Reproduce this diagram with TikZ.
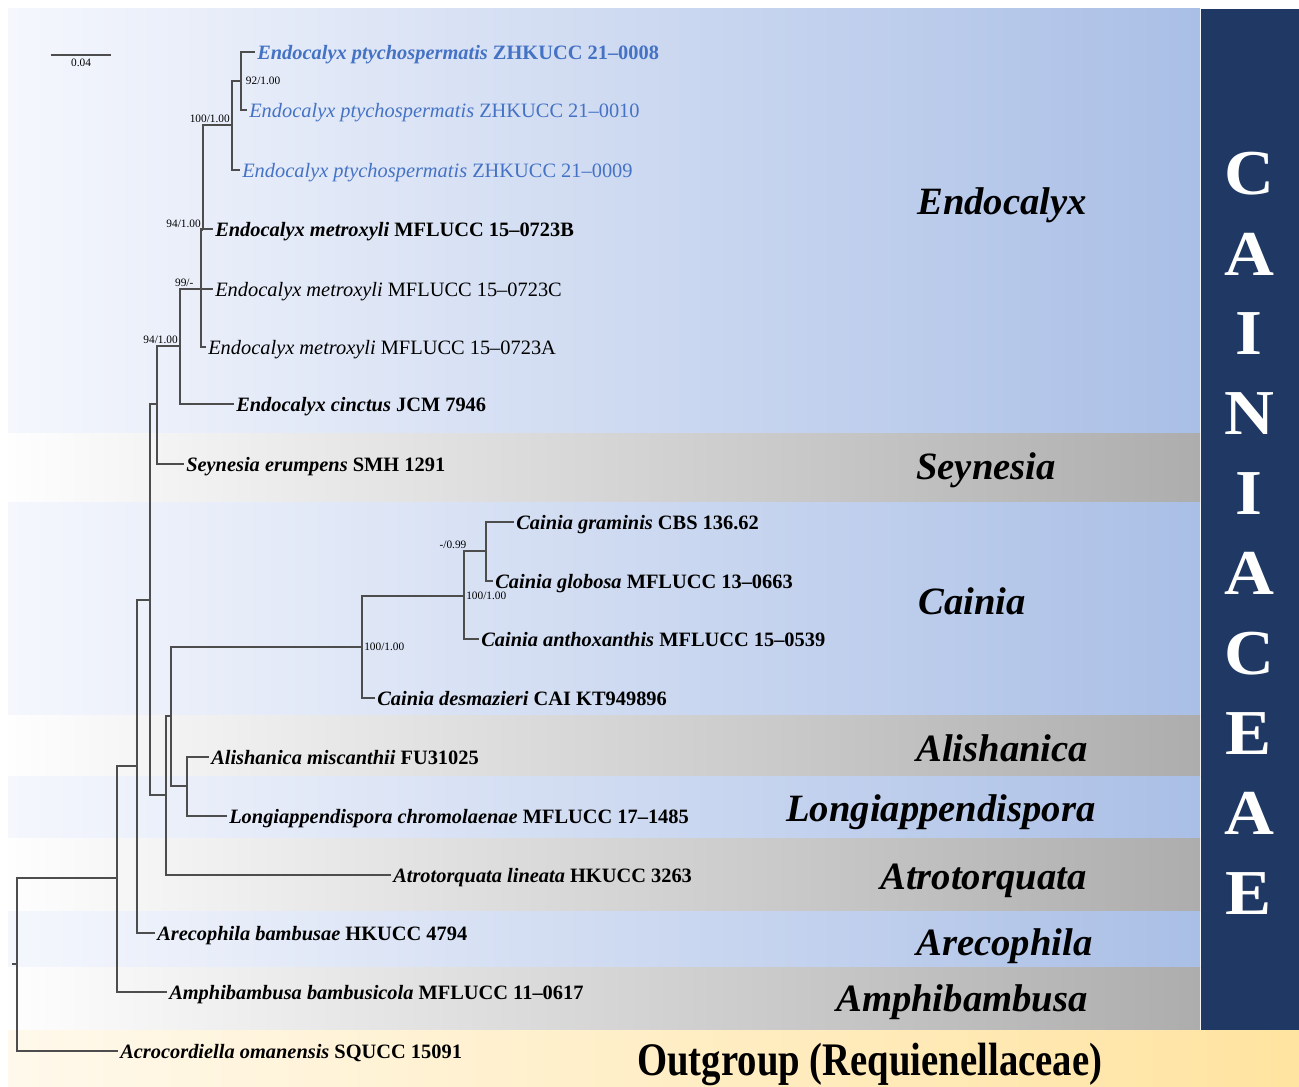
\documentclass[tikz,border=0pt]{standalone}
\usepackage{fontspec}
\setmainfont{Liberation Serif}
\usepackage{graphicx}
\usetikzlibrary{positioning}

\definecolor{bandblue}{HTML}{AABFE6}
\definecolor{bandbluel}{HTML}{F5F7FD}
\definecolor{bandgray}{HTML}{ADADAD}
\definecolor{bandgrayl}{HTML}{FEFEFE}
\definecolor{outyel}{HTML}{FFE3A0}
\definecolor{outyell}{HTML}{FFF9EC}
\definecolor{famnavy}{HTML}{1F3864}
\definecolor{newblue}{HTML}{4472C4}
\definecolor{treegray}{HTML}{4D4D4D}

\tikzset{
  branchline/.style={draw=treegray, line width=0.8pt},
  taxon/.style={anchor=west, inner sep=1.5pt, text height=11.5pt, text depth=0pt, font=\fontsize{15.3}{18}\selectfont},
  taxonbf/.style={taxon, font=\fontsize{15.3}{18}\selectfont\bfseries},
  boot/.style={inner sep=1.5pt, font=\fontsize{8.5}{10}\selectfont},
  cladename/.style={anchor=base west, inner sep=0pt, font=\fontsize{29}{34}\selectfont\bfseries\itshape},
  famletter/.style={text=white, inner sep=0pt, font=\fontsize{48}{50}\selectfont\bfseries},
  blueband/.style={left color=bandbluel, right color=bandblue},
  grayband/.style={left color=bandgrayl, right color=bandgray},
}

\begin{document}
\begin{tikzpicture}[x=0.75pt,y=0.75pt,yscale=-1,xscale=1]
        \useasboundingbox (0,0) rectangle (1299,1087);
        % clade bands
        \shade[blueband] (8,9) rectangle (1200,433);
        \shade[grayband] (8,433) rectangle (1200,502);
        \shade[blueband] (8,502) rectangle (1200,715);
        \shade[grayband] (8,715) rectangle (1200,776);
        \shade[blueband] (8,776) rectangle (1200,838);
        \shade[grayband] (8,838) rectangle (1200,911);
        \shade[blueband] (8,911) rectangle (1200,967);
        \shade[grayband] (8,967) rectangle (1200,1030);
        \shade[left color=outyell, right color=outyel] (8,1030) rectangle (1299,1087);
        \fill[famnavy] (1201,9) rectangle (1299,1030);
        \foreach \ch [count=\i] in {C,A,I,N,I,A,C,E,A,E}
            \node[famletter] (L\i) at (1249,{174+79.9*(\i-1)}) {\scalebox{1.08}[1]{\ch}};

        % clade names
        \node[cladename] (cEndo) at (917,215) {Endocalyx};
        \node[cladename] (cSeyn) at (916,479) {Seynesia};
        \node[cladename] (cCain) at (918,614) {Cainia};
        \node[cladename] (cAlis) at (916,761) {Alishanica};
        \node[cladename] (cLong) at (786,821) {Longiappendispora};
        \node[cladename] (cAtro) at (880,889) {Atrotorquata};
        \node[cladename] (cArec) at (916,955) {Arecophila};
        \node[cladename] (cAmph) at (836,1011) {Amphibambusa};
        \node[anchor=base west, inner sep=0pt, font=\fontsize{35}{40}\selectfont\bfseries] (cOut) at (637,1075) {\scalebox{0.83}[1]{Outgroup (Requienellaceae)}};

        % scale bar
        \coordinate (sb1) at (51,55);
        \coordinate (sb2) at (111,55);
        \draw[branchline] (sb1) -- (sb2) node[boot, midway, below=1pt] (sblab) {0.04};

        % taxa
        \node[taxonbf, text=newblue] (t1) at (255,52) {\textit{Endocalyx ptychospermatis} ZHKUCC 21--0008};
        \node[taxon, text=newblue] (t2) at (247,110) {\textit{Endocalyx ptychospermatis} ZHKUCC 21--0010};
        \node[taxon, text=newblue] (t3) at (240,170) {\textit{Endocalyx ptychospermatis} ZHKUCC 21--0009};
        \node[taxonbf] (t4) at (213,229) {\textit{Endocalyx metroxyli} MFLUCC 15--0723B};
        \node[taxon] (t5) at (213,289) {\textit{Endocalyx metroxyli} MFLUCC 15--0723C};
        \node[taxon] (t6) at (206,347) {\textit{Endocalyx metroxyli} MFLUCC 15--0723A};
        \node[taxonbf] (t7) at (234,404) {\textit{Endocalyx cinctus} JCM 7946};
        \node[taxonbf] (t8) at (184,464) {\textit{Seynesia erumpens} SMH 1291};
        \node[taxonbf] (t9) at (514,522) {\textit{Cainia graminis} CBS 136.62};
        \node[taxonbf] (t10) at (493,581) {\textit{Cainia globosa} MFLUCC 13--0663};
        \node[taxonbf] (t11) at (479,639) {\textit{Cainia anthoxanthis} MFLUCC 15--0539};
        \node[taxonbf] (t12) at (375,698) {\textit{Cainia desmazieri} CAI KT949896};
        \node[taxonbf] (t13) at (209,757) {\textit{Alishanica miscanthii} FU31025};
        \node[taxonbf] (t14) at (227,816) {\textit{Longiappendispora chromolaenae} MFLUCC 17--1485};
        \node[taxonbf] (t15) at (391,875) {\textit{Atrotorquata lineata} HKUCC 3263};
        \node[taxonbf] (t16) at (155,933) {\textit{Arecophila bambusae} HKUCC 4794};
        \node[taxonbf] (t17) at (167,992) {\textit{Amphibambusa bambusicola} MFLUCC 11--0617};
        \node[taxonbf] (t18) at (118,1051) {\textit{Acrocordiella omanensis} SQUCC 15091};

        % internal nodes
        \coordinate (nA) at (241,81);
        \coordinate (nB) at (232,125);
        \coordinate (nC) at (203,230);
        \coordinate (nD) at (201,289);
        \coordinate (nE) at (180,346);
        \coordinate (nF) at (157,404);
        \coordinate (nG) at (150,600);
        \coordinate (nH) at (166,795);
        \coordinate (nJ) at (171,716);
        \coordinate (nI) at (187,786);
        \coordinate (nM) at (362,647);
        \coordinate (nN) at (464,596);
        \coordinate (nO) at (486,551);
        \coordinate (nK) at (137,766);
        \coordinate (nL) at (117,878);
        \coordinate (root) at (17,964);
        \coordinate (rootstub) at (12,964);

        % branches
        \draw[branchline] (nA) |- (t1.west);
        \draw[branchline] (nA) |- (t2.west);
        \draw[branchline] (nB) |- (nA);
        \draw[branchline] (nB) |- (t3.west);
        \draw[branchline] (nC) |- (nB);
        \draw[branchline] (nD) |- (t4.west);
        \draw[branchline] (nD) |- (nC);
        \draw[branchline] (nD) -- (t5.west);
        \draw[branchline] (nD) |- (t6.west);
        \draw[branchline] (nE) |- (nD);
        \draw[branchline] (nE) |- (t7.west);
        \draw[branchline] (nF) |- (nE);
        \draw[branchline] (nF) |- (t8.west);
        \draw[branchline] (nO) |- (t9.west);
        \draw[branchline] (nO) |- (t10.west);
        \draw[branchline] (nN) |- (nO);
        \draw[branchline] (nN) |- (t11.west);
        \draw[branchline] (nM) |- (nN);
        \draw[branchline] (nM) |- (t12.west);
        \draw[branchline] (nI) |- (t13.west);
        \draw[branchline] (nI) |- (t14.west);
        \draw[branchline] (nJ) |- (nM);
        \draw[branchline] (nJ) |- (nI);
        \draw[branchline] (nH) |- (nJ);
        \draw[branchline] (nH) |- (t15.west);
        \draw[branchline] (nG) |- (nF);
        \draw[branchline] (nG) |- (nH);
        \draw[branchline] (nK) |- (nG);
        \draw[branchline] (nK) |- (t16.west);
        \draw[branchline] (nL) |- (nK);
        \draw[branchline] (nL) |- (t17.west);
        \draw[branchline] (root) |- (nL);
        \draw[branchline] (root) |- (t18.west);
        \draw[branchline] (rootstub) -- (root);

        % support values
        \node[boot, anchor=west] (bA) at ([xshift=2]nA) {92/1.00};
        \node[boot, anchor=south east] (bB) at (nB) {100/1.00};
        \node[boot, anchor=south east] (bC) at (nC) {94/1.00};
        \node[boot, anchor=south east] (bD) at ([xshift=-4]nD) {99/-};
        \node[boot, anchor=south east] (bE) at (nE) {94/1.00};
        \node[boot, anchor=south east] (bO) at ([xshift=-13]nO) {-/0.99};
        \node[boot, anchor=west] (bN) at (nN) {100/1.00};
        \node[boot, anchor=west] (bM) at (nM) {100/1.00};
\end{tikzpicture}
\end{document}
